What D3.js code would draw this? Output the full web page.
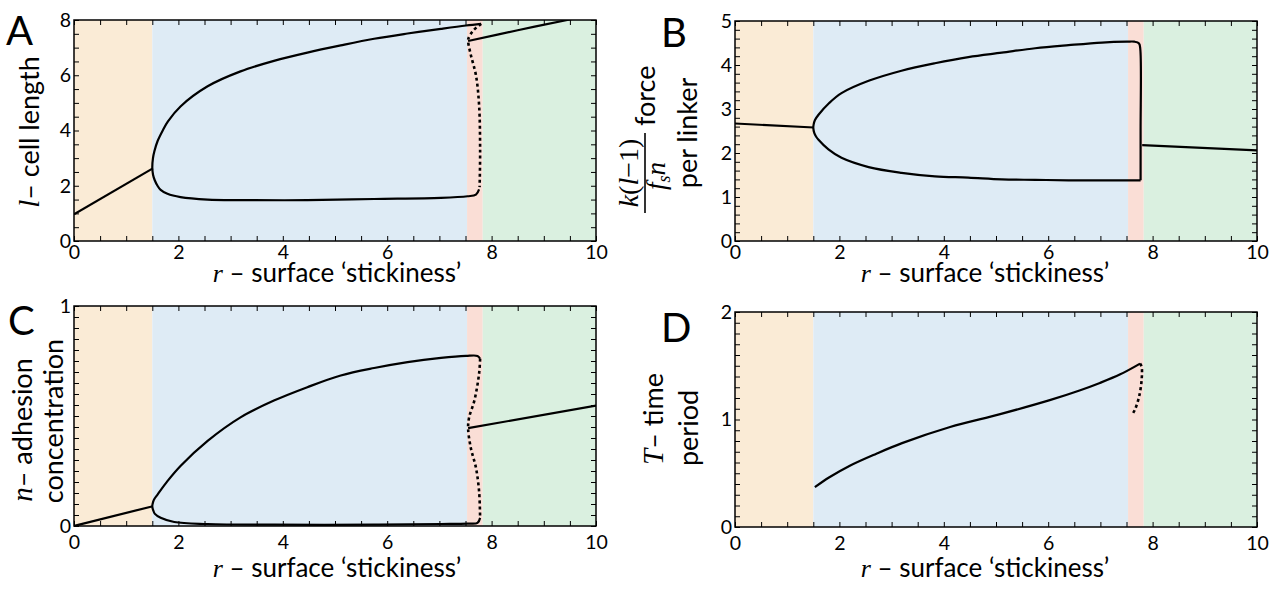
<!DOCTYPE html>
<html><head><meta charset="utf-8">
<script src="https://cdn.jsdelivr.net/npm/d3@7"></script>
<style>body{margin:0;background:#fff}</style>
</head><body>
<svg id="c" width="1286" height="592"></svg>
<script>
// ---------- data ----------
const xTickLabels = [0, 2, 4, 6, 8, 10];
const regionEdges = [0, 1.5, 7.53, 7.83, 10];
const regionColors = ["#faebd6", "#deebf5", "#faded6", "#daf0e0"];

const yTicksA = [0, 2, 4, 6, 8];
const yTicksB = [0, 1, 2, 3, 4, 5];
const yTicksC = [0, 1];
const yTicksD = [0, 1, 2];

// Panel A: l - cell length
const A_stable = [[0, 0.97], [1.51, 2.63]];
const A_cycle = [[7.8, 7.86], [7.51, 7.80], [7.03, 7.68], [6.39, 7.51], [5.75, 7.32], [5.11, 7.08], [4.47, 6.82],
  [3.83, 6.52], [3.19, 6.14], [2.56, 5.6], [2.04, 4.87], [1.8, 4.33], [1.7, 4.0], [1.6, 3.61], [1.54, 3.25],
  [1.513, 3.0], [1.5, 2.65], [1.514, 2.4], [1.547, 2.2], [1.6, 2.0], [1.66, 1.85], [1.79, 1.71], [2.04, 1.59],
  [2.56, 1.50], [3.19, 1.48], [4.47, 1.48], [5.75, 1.52], [7.03, 1.56], [7.54, 1.62], [7.7, 1.68], [7.76, 1.87]];
const A_unstable = [[7.8, 7.86], [7.65, 7.62], [7.56, 7.35], [7.55, 7.24], [7.6, 6.75], [7.7, 6.0], [7.76, 4.93],
  [7.78, 3.25], [7.77, 1.95]];
const A_upperStable = [[7.55, 7.24], [8.5, 7.63], [9.45, 8.0], [10, 8.22]];

// Panel B: force per linker
const B_stable = [[0, 2.67], [1.51, 2.58]];
const B_cycle = [[7.77, 1.38], [7.77, 2.5], [7.765, 4.35], [7.74, 4.49], [7.65, 4.53], [7.51, 4.53], [7.03, 4.51],
  [6.39, 4.45], [5.75, 4.38], [5.11, 4.28], [4.47, 4.18], [3.83, 4.04], [3.19, 3.87], [2.56, 3.64], [2.04, 3.36],
  [1.8, 3.13], [1.6, 2.87], [1.532, 2.75], [1.507, 2.65], [1.5, 2.57], [1.52, 2.45], [1.555, 2.37], [1.6, 2.30],
  [1.79, 2.08], [2.04, 1.89], [2.56, 1.68], [3.19, 1.55], [3.83, 1.47], [4.47, 1.44], [5.11, 1.40], [5.75, 1.39],
  [6.39, 1.38], [7.03, 1.38], [7.77, 1.38]];
const B_upperStable = [[7.8, 2.18], [10, 2.06]];

// Panel C: n - adhesion concentration
const C_stable = [[0, 0], [1.51, 0.09]];
const C_cycle = [[7.78, 0.76], [7.73, 0.773], [7.51, 0.773], [7.03, 0.764], [6.39, 0.745], [5.75, 0.718],
  [5.11, 0.684], [4.47, 0.631], [3.83, 0.57], [3.19, 0.494], [2.56, 0.387], [2.04, 0.273], [1.79, 0.204],
  [1.6, 0.143], [1.545, 0.125], [1.516, 0.11], [1.5, 0.088], [1.52, 0.07], [1.55, 0.055], [1.66, 0.037],
  [1.92, 0.018], [2.56, 0.009], [3.83, 0.006], [5.75, 0.006], [7.03, 0.009], [7.54, 0.011], [7.73, 0.014],
  [7.78, 0.037]];
const C_unstable = [[7.78, 0.76], [7.76, 0.692], [7.67, 0.57], [7.57, 0.494], [7.55, 0.445], [7.6, 0.357],
  [7.7, 0.265], [7.76, 0.159], [7.78, 0.037]];
const C_upperStable = [[7.55, 0.445], [10, 0.547]];

// Panel D: T - time period
const D_cycle = [[1.53, 0.37], [1.8, 0.46], [2.2, 0.57], [2.7, 0.68], [3.2, 0.78], [4.12, 0.93], [5.08, 1.05],
  [6.03, 1.18], [6.6, 1.27], [6.99, 1.34], [7.38, 1.42], [7.76, 1.52]];
const D_unstable = [[7.76, 1.52], [7.79, 1.49], [7.79, 1.37], [7.74, 1.21], [7.66, 1.09], [7.6, 1.04]];

// ---------- drawing ----------
const svg = d3.select("#c");
const SANS = "Lato, 'Open Sans', sans-serif";
const SERIF = "'Liberation Serif', 'DejaVu Serif', serif";

const panels = [
  {id: "A", box: {x0: 74, x1: 596, y0: 20, y1: 241}, ymax: 8, yStep: 0.5, yLabels: yTicksA,
    solid: [A_stable, A_cycle, A_upperStable], dotted: [A_unstable], xPad: 4},
  {id: "B", box: {x0: 735, x1: 1257, y0: 21, y1: 241}, ymax: 5, yStep: 0.2, yLabels: yTicksB,
    solid: [B_stable, B_cycle, B_upperStable], dotted: [], xPad: 4},
  {id: "C", box: {x0: 74, x1: 596, y0: 306, y1: 526}, ymax: 1, yStep: 0.05, yLabels: yTicksC,
    solid: [C_stable, C_cycle, C_upperStable], dotted: [C_unstable], xPad: 9},
  {id: "D", box: {x0: 735, x1: 1257, y0: 312, y1: 527}, ymax: 2, yStep: 0.1, yLabels: yTicksD,
    solid: [D_cycle], dotted: [D_unstable], xPad: 9}
];

function near(list, v) { return list.some(t => Math.abs(t - v) < 1e-6); }

panels.forEach(p => {
  const b = p.box;
  const g = svg.append("g");
  const x = d3.scaleLinear().domain([0, 10]).range([b.x0, b.x1]);
  const y = d3.scaleLinear().domain([0, p.ymax]).range([b.y1, b.y0]);

  g.selectAll("rect.reg").data(regionColors).join("rect")
    .attr("x", (d, i) => x(regionEdges[i]))
    .attr("width", (d, i) => x(regionEdges[i + 1]) - x(regionEdges[i]))
    .attr("y", b.y0).attr("height", b.y1 - b.y0).attr("fill", d => d);

  const clipId = "clip" + p.id;
  svg.append("clipPath").attr("id", clipId).append("rect")
    .attr("x", b.x0).attr("y", b.y0).attr("width", b.x1 - b.x0).attr("height", b.y1 - b.y0);

  const line = d3.line().x(d => x(d[0])).y(d => y(d[1])).curve(d3.curveCatmullRom.alpha(0.5));
  const cg = g.append("g").attr("clip-path", `url(#${clipId})`);
  p.solid.forEach(s => cg.append("path").attr("d", line(s)).attr("fill", "none")
    .attr("stroke", "#000").attr("stroke-width", 2.2).attr("stroke-linejoin", "round"));
  p.dotted.forEach(s => cg.append("path").attr("d", line(s)).attr("fill", "none")
    .attr("stroke", "#000").attr("stroke-width", 2.6).attr("stroke-dasharray", "3,3"));

  const xt = d3.range(0, 21).map(i => i * 0.5);
  const nY = Math.round(p.ymax / p.yStep);
  const yt = d3.range(0, nY + 1).map(i => +(i * p.yStep).toFixed(4));

  const styleAxis = sel => {
    sel.select(".domain").remove();
    sel.selectAll(".tick line").attr("stroke", "#000").attr("stroke-width", 1);
    sel.selectAll("text").attr("font-family", SANS).attr("font-size", 19.5).attr("fill", "#000");
  };
  g.append("g").attr("transform", `translate(0,${b.y1})`)
    .call(d3.axisBottom(x).tickValues(xt).tickSize(-5).tickPadding(p.xPad)
      .tickFormat(d => near(xTickLabels, d) ? String(d) : "")).call(styleAxis);
  g.append("g").attr("transform", `translate(0,${b.y0})`)
    .call(d3.axisTop(x).tickValues(xt).tickSize(-5).tickFormat("")).call(styleAxis);
  g.append("g").attr("transform", `translate(${b.x0},0)`)
    .call(d3.axisLeft(y).tickValues(yt).tickSize(-5).tickPadding(3)
      .tickFormat(d => near(p.yLabels, d) ? String(d) : "")).call(styleAxis);
  g.append("g").attr("transform", `translate(${b.x1},0)`)
    .call(d3.axisRight(y).tickValues(yt).tickSize(-5).tickFormat("")).call(styleAxis);

  g.append("rect").attr("x", b.x0).attr("y", b.y0).attr("width", b.x1 - b.x0).attr("height", b.y1 - b.y0)
    .attr("fill", "none").attr("stroke", "#000").attr("stroke-width", 1.5);
});

// panel letters
const letters = [["A", 6, 45], ["B", 661, 47], ["C", 8, 335], ["D", 661, 342]];
letters.forEach(([t, lx, ly]) => svg.append("text").attr("x", lx).attr("y", ly).text(t)
  .attr("font-family", SANS).attr("font-size", 40).attr("fill", "#000"));

// x-axis labels
[[337, 282], [985, 282], [337, 577], [985, 577]].forEach(([cx, by]) => {
  const t = svg.append("text").attr("x", cx).attr("y", by).attr("text-anchor", "middle")
    .attr("font-family", SANS).attr("font-size", 26).attr("fill", "#000");
  t.append("tspan").attr("font-family", SERIF).attr("font-style", "italic").text("r");
  t.append("tspan").text(" \u2013 surface \u2018stickiness\u2019");
});

// y-axis labels
function rotLabel(bx, cy, parts) {
  const t = svg.append("text").attr("transform", `translate(${bx},${cy}) rotate(-90)`)
    .attr("text-anchor", "middle").attr("font-family", SANS).attr("font-size", 27).attr("fill", "#000");
  parts.forEach(([s, math]) => {
    const ts = t.append("tspan").text(s);
    if (math) ts.attr("font-family", SERIF).attr("font-style", "italic").attr("font-size", 29);
  });
}
rotLabel(39, 132, [["l", true], ["\u2013 cell length", false]]);
rotLabel(32, 430, [["n", true], ["\u2013 adhesion", false]]);
rotLabel(63, 421, [["concentration", false]]);
rotLabel(663, 419, [["T", true], ["\u2013 time", false]]);
rotLabel(698, 428, [["period", false]]);

// panel B label: fraction + text
{
  const g = svg.append("g").attr("transform", "translate(648,135) rotate(-90)");
  g.append("text").attr("x", 9).attr("y", 7).text("force")
    .attr("font-family", SANS).attr("font-size", 27).attr("fill", "#000");
  g.append("line").attr("x1", -78).attr("x2", 2).attr("y1", -3).attr("y2", -3)
    .attr("stroke", "#000").attr("stroke-width", 1.6);
  const num = g.append("text").attr("x", -38).attr("y", -10).attr("text-anchor", "middle")
    .attr("font-family", SERIF).attr("font-size", 28).attr("fill", "#000");
  num.append("tspan").attr("font-style", "italic").text("k");
  num.append("tspan").text("(");
  num.append("tspan").attr("font-style", "italic").text("l");
  num.append("tspan").text("\u22121)");
  const den = g.append("text").attr("x", -41).attr("y", 17).attr("text-anchor", "middle")
    .attr("font-family", SERIF).attr("font-size", 27).attr("font-style", "italic").attr("fill", "#000");
  den.append("tspan").text("f");
  den.append("tspan").attr("font-size", 18).attr("dy", 5).text("s");
  den.append("tspan").attr("dy", -5).text("n");
  g.append("text").attr("x", 2).attr("y", 49).attr("text-anchor", "middle").text("per linker")
    .attr("font-family", SANS).attr("font-size", 27).attr("fill", "#000");
}
</script>
</body></html>
